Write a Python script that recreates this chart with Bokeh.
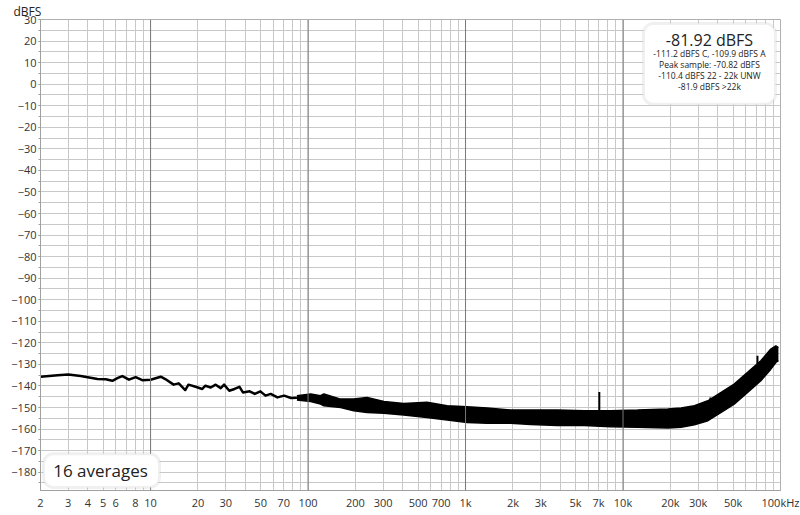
from bokeh.plotting import figure
from bokeh.models import FixedTicker, Label, BoxAnnotation, Span
from bokeh.embed import file_html
from bokeh.resources import INLINE

# ---- data ----
lf_freq = [2, 2.57, 3.0, 3.6, 4.6, 5.19, 5.72, 6.2, 6.62, 7.29, 8.04, 8.86, 10.0,
           11.6, 12.4, 14.0, 15.1, 16.6, 17.4, 19.3, 21.3, 22.3, 24.1, 25.9, 27.9,
           29.3, 31.6, 34.1, 36.7, 38.6, 42.6, 45.9, 49.8, 53.7, 57.9, 63.9, 70.5, 77.8]
lf_db = [-135.7, -135.0, -134.7, -135.4, -136.8, -136.9, -137.6, -136.3, -135.4, -137.1,
         -135.9, -137.3, -137.1, -135.7, -136.8, -139.4, -138.8, -141.9, -139.4, -140.4,
         -141.4, -139.9, -140.7, -139.4, -141.0, -139.4, -142.2, -141.4, -140.4, -143.0,
         -142.5, -143.7, -142.5, -144.5, -143.7, -145.3, -144.5, -145.6]

band_freq = [85, 104, 120, 126, 161, 195, 237, 303, 405, 569, 764, 1024, 1372, 1934,
             2594, 3834, 5664, 8364, 12380, 19260, 23380, 28400, 34600, 41980, 50800,
             61800, 75000, 86800, 93400, 97000]
band_upper = [-144.5, -143.7, -144.5, -143.7, -146.1, -146.1, -145.3, -147.2, -148.1,
              -147.6, -149.2, -149.6, -150.2, -151.2, -151.2, -151.2, -151.5, -151.5,
              -151.2, -150.7, -150.2, -149.2, -146.9, -143.0, -139.1, -133.7, -128.3,
              -122.9, -121.4, -122.2]
band_lower = [-146.5, -147.2, -148.4, -149.2, -150.0, -151.5, -152.3, -152.7, -153.5,
              -154.6, -155.8, -156.9, -157.3, -157.3, -157.9, -158.4, -158.4, -158.9,
              -159.2, -159.5, -159.2, -158.0, -156.1, -152.3, -148.4, -143.0, -137.6,
              -132.2, -129.1, -128.3]

spike_freq = [7070, 35900, 71400]
spike_base = [-151.5, -149.0, -132.0]
spike_top = [-142.8, -145.3, -126.0]

x_ticks = [2, 3, 4, 5, 6, 8, 10, 20, 30, 50, 70, 100, 200, 300, 500, 700,
           1000, 2000, 3000, 5000, 7000, 10000, 20000, 30000, 50000, 100000]
x_tick_labels = ["2", "3", "4", "5", "6", "8", "10", "20", "30", "50", "70", "100", "200",
                 "300", "500", "700", "1k", "2k", "3k", "5k", "7k", "10k", "20k", "30k",
                 "50k", "100kHz"]
y_ticks = list(range(30, -181, -10))
decades = [10, 100, 1000, 10000]

y_unit = "dBFS"
info_title = "-81.92 dBFS"
info_lines = ["-111.2 dBFS C, -109.9 dBFS A", "Peak sample: -70.82 dBFS",
              "-110.4 dBFS 22 - 22k UNW", "-81.9 dBFS >22k"]
avg_text = "16 averages"

FONT = "Open Sans"

p = figure(width=800, height=515, x_axis_type="log", x_range=(2, 100000), y_range=(-188.5, 30),
           output_backend="svg", toolbar_location=None, title=y_unit,
           min_border_left=40, min_border_right=20, min_border_top=0, min_border_bottom=25)
p.background_fill_color = "white"
p.border_fill_color = "white"
p.outline_line_color = "#b0b0b0"

# unit label as left-aligned title above the frame
p.title.align = "left"
p.title.offset = -27
p.title.standoff = 0
p.title.text_font = FONT
p.title.text_font_size = "12px"
p.title.text_font_style = "normal"
p.title.text_color = "#222222"

# grids
grid_x = []
for d in [1, 10, 100, 1000, 10000]:
    for m in range(1, 10):
        v = m * d
        if 2 <= v <= 100000:
            grid_x.append(v)
grid_x.append(100000)
p.xgrid.ticker = FixedTicker(ticks=grid_x)
p.xgrid.grid_line_color = "#c8c8c8"
p.ygrid.ticker = FixedTicker(ticks=list(range(30, -190, -5)))
p.ygrid.grid_line_color = "#c8c8c8"
for d in decades:
    p.add_layout(Span(location=d, dimension="height", line_color="#787878", line_width=1))

# axes
p.xaxis.ticker = FixedTicker(ticks=x_ticks)
p.xaxis.major_label_overrides = {t: l for t, l in zip(x_ticks, x_tick_labels)}
p.xaxis.minor_tick_line_color = None
p.xaxis.major_tick_out = 0
p.xaxis.major_tick_in = 0
p.xaxis.axis_line_color = "#a0a0a0"
p.xaxis.major_label_standoff = 4
p.yaxis.ticker = FixedTicker(ticks=y_ticks, minor_ticks=list(range(30, -190, -5)))
p.yaxis.major_tick_out = 2
p.yaxis.major_tick_in = 0
p.yaxis.minor_tick_out = 2
p.yaxis.minor_tick_in = 0
p.yaxis.major_tick_line_color = "#a0a0a0"
p.yaxis.minor_tick_line_color = "#a0a0a0"
p.yaxis.axis_line_color = "#a0a0a0"
p.yaxis.major_label_standoff = 2
for ax in (p.xaxis[0], p.yaxis[0]):
    ax.major_label_text_font = FONT
    ax.major_label_text_font_size = "11px"
    ax.major_label_text_color = "#333333"

# curve
p.line(lf_freq + band_freq[:1], lf_db + [(band_upper[0] + band_lower[0]) / 2],
       line_color="black", line_width=2.5, line_join="round")
p.varea(x=band_freq, y1=band_lower, y2=band_upper, fill_color="black")
p.line(band_freq, band_upper, line_color="black", line_width=1.5)
p.line(band_freq, band_lower, line_color="black", line_width=1.5)
p.segment(x0=spike_freq, y0=spike_base, x1=spike_freq, y1=spike_top,
          line_color="black", line_width=2)

# info box
p.add_layout(BoxAnnotation(left=13490, right=92900, top=28.1, bottom=-9.35,
                           fill_color="white", fill_alpha=1, line_color="#cccccc",
                           line_width=3, border_radius=10))
p.add_layout(Label(x=35400, y=20.3, text=info_title, text_align="center", text_baseline="middle",
                   text_font=FONT, text_font_size="16px", text_color="#222222"))
for i, t in enumerate(info_lines):
    p.add_layout(Label(x=35400, y=14.3 - i * 5.1, text=t, text_align="center",
                       text_baseline="middle", text_font=FONT, text_font_size="8.5px",
                       text_color="#222222"))

# averages box
p.add_layout(BoxAnnotation(left=2.09, right=11.4, top=-171.4, bottom=-187.1,
                           fill_color="white", fill_alpha=1, line_color="#cccccc",
                           line_width=3, border_radius=10))
p.add_layout(Label(x=4.81, y=-179.3, text=avg_text, text_align="center", text_baseline="middle",
                   text_font=FONT, text_font_size="17px", text_color="#222222"))

open("out.html", "w").write(file_html(p, INLINE))
